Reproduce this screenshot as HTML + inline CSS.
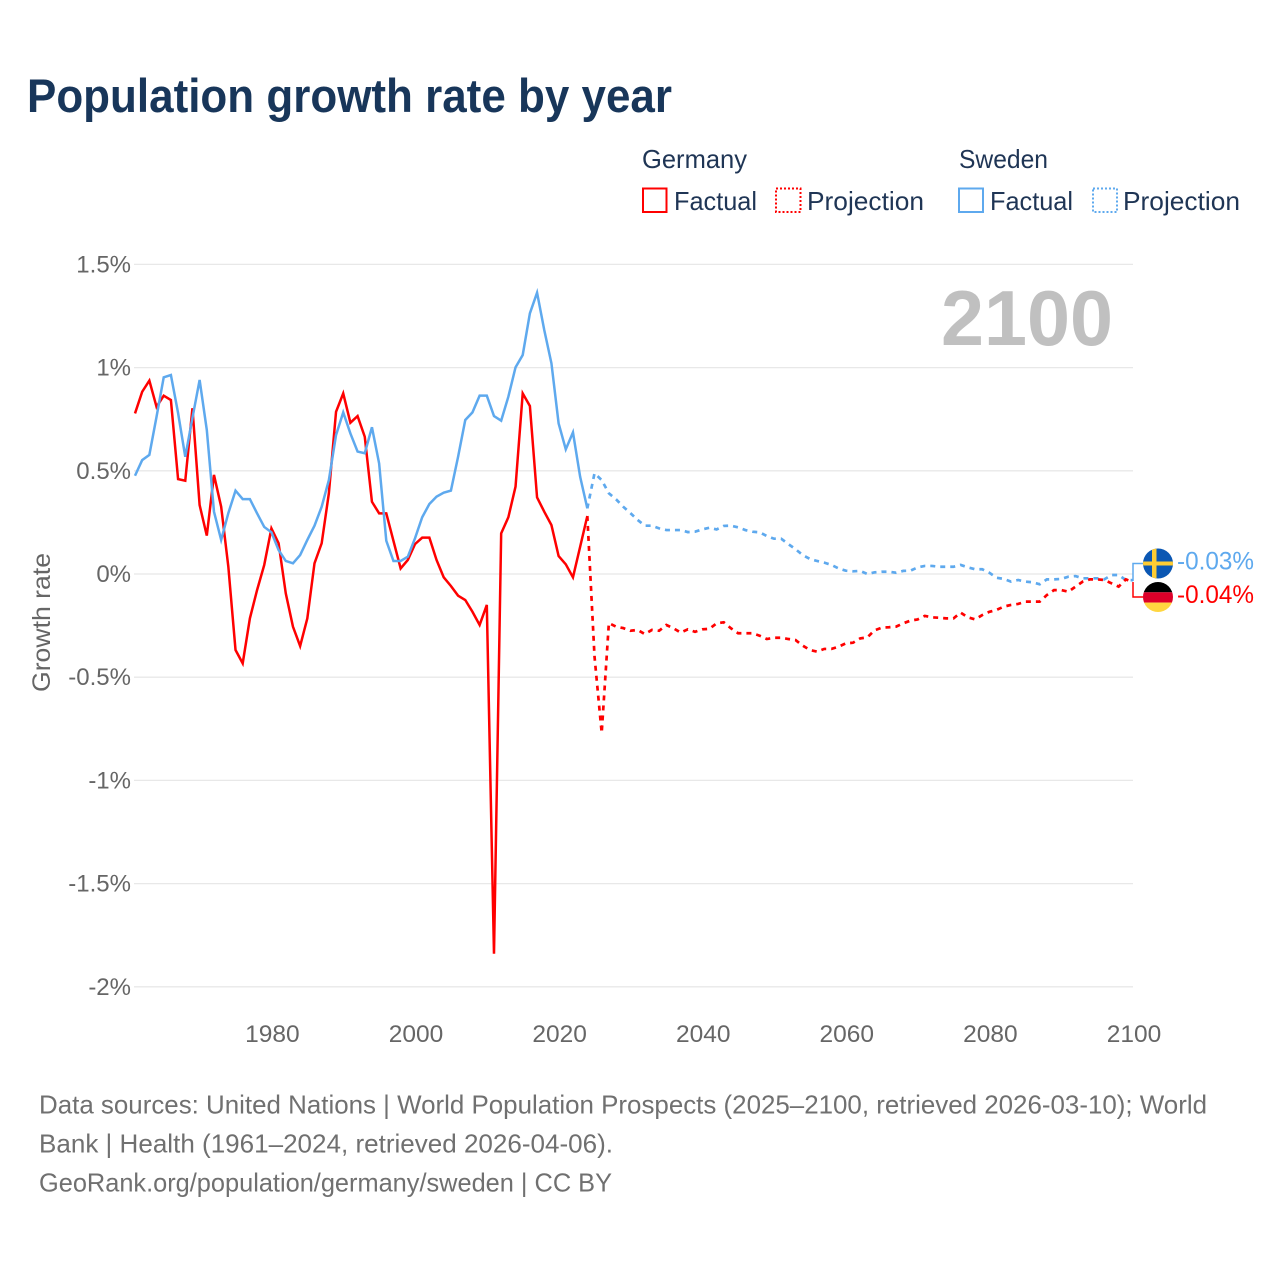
<!DOCTYPE html>
<html lang="en">
<head>
<meta charset="utf-8">
<title>Population growth rate by year</title>
<style>
html,body{margin:0;padding:0;background:#fff;}
svg{display:block;font-family:"Liberation Sans",sans-serif;}
</style>
</head>
<body>
<svg id="chart" xmlns="http://www.w3.org/2000/svg" width="1280" height="1280" viewBox="0 0 1280 1280">
  <text x="27" y="112" font-size="47" font-weight="700" fill="#18365a" textLength="645" lengthAdjust="spacingAndGlyphs">Population growth rate by year</text>

  <g font-size="26" fill="#1f3555">
    <text x="642" y="168" textLength="105" lengthAdjust="spacingAndGlyphs">Germany</text>
    <rect x="643" y="188.500" width="23.500" height="23.500" fill="none" stroke="#ff0000" stroke-width="2"/>
    <text x="674" y="210" textLength="83" lengthAdjust="spacingAndGlyphs">Factual</text>
    <rect x="776" y="188.500" width="24.500" height="23.500" fill="none" stroke="#ff0000" stroke-width="2" stroke-dasharray="2 2"/>
    <text x="807" y="210" textLength="117" lengthAdjust="spacingAndGlyphs">Projection</text>
    <text x="959" y="168" textLength="89" lengthAdjust="spacingAndGlyphs">Sweden</text>
    <rect x="959" y="188.500" width="24" height="23.500" fill="none" stroke="#5ea9ee" stroke-width="2"/>
    <text x="990" y="210" textLength="83" lengthAdjust="spacingAndGlyphs">Factual</text>
    <rect x="1093" y="188.500" width="24" height="23.500" fill="none" stroke="#5ea9ee" stroke-width="2" stroke-dasharray="2 2"/>
    <text x="1123" y="210" textLength="117" lengthAdjust="spacingAndGlyphs">Projection</text>
  </g>

  <g id="grid"></g>
  <g id="yticks" font-size="24" fill="#666666" text-anchor="end"></g>
  <g id="xticks" font-size="24.500" fill="#666666" text-anchor="middle"></g>

  <text transform="translate(50 622.500) rotate(-90)" text-anchor="middle" font-size="25" fill="#666666" textLength="139" lengthAdjust="spacingAndGlyphs">Growth rate</text>

  <text id="year-label" x="941" y="345" font-size="78" font-weight="700" fill="#c0c0c0" textLength="172" lengthAdjust="spacingAndGlyphs">2100</text>

  <g id="series"></g>

  <g>
    <defs>
      <clipPath id="clip-se"><circle cx="1158" cy="563.500" r="15"/></clipPath>
      <clipPath id="clip-de"><circle cx="1158" cy="597" r="15"/></clipPath>
    </defs>
    <path d="M1133 581V563.500H1143" fill="none" stroke="#5ea9ee" stroke-width="1.500"/>
    <path d="M1133 582V597H1143" fill="none" stroke="#ff0000" stroke-width="1.500"/>
    <g clip-path="url(#clip-se)">
      <rect x="1143" y="548.500" width="30" height="30" fill="#0b57b3"/>
      <rect x="1152" y="548.500" width="4.500" height="30" fill="#fecc33"/>
      <rect x="1143" y="561.500" width="30" height="4" fill="#fecc33"/>
    </g>
    <g clip-path="url(#clip-de)">
      <rect x="1143" y="582" width="30" height="10.300" fill="#000000"/>
      <rect x="1143" y="592.300" width="30" height="10.300" fill="#dd0029"/>
      <rect x="1143" y="602.600" width="30" height="10" fill="#ffd640"/>
    </g>
    <text id="end-se" x="1177" y="569.500" font-size="25" fill="#5ea9ee" textLength="77" lengthAdjust="spacingAndGlyphs"></text>
    <text id="end-de" x="1177" y="603" font-size="25" fill="#ff0000" textLength="77" lengthAdjust="spacingAndGlyphs"></text>
  </g>

  <g font-size="26" fill="#707070">
    <text x="39" y="1113.500" textLength="1168" lengthAdjust="spacingAndGlyphs">Data sources: United Nations | World Population Prospects (2025–2100, retrieved 2026-03-10); World</text>
    <text x="39" y="1152.500" textLength="574" lengthAdjust="spacingAndGlyphs">Bank | Health (1961–2024, retrieved 2026-04-06).</text>
    <text x="39" y="1191.500" textLength="573" lengthAdjust="spacingAndGlyphs">GeoRank.org/population/germany/sweden | CC BY</text>
  </g>
</svg>
<script>
const firstFactualYear = 1961;
const firstProjectionYear = 2024;
const yTickValues = [1.5, 1, 0.5, 0, -0.5, -1, -1.5, -2];
const yTickLabels = ["1.5%", "1%", "0.5%", "0%", "-0.5%", "-1%", "-1.5%", "-2%"];
const xTickValues = [1980, 2000, 2020, 2040, 2060, 2080, 2100];
const germanyFactual = [0.778,0.883,0.937,0.81,0.864,0.843,0.46,0.452,0.803,0.334,0.186,0.48,0.326,0.035,-0.368,-0.433,-0.215,-0.078,0.044,0.221,0.149,-0.094,-0.255,-0.349,-0.215,0.052,0.149,0.391,0.786,0.875,0.733,0.765,0.665,0.35,0.294,0.294,0.16,0.027,0.068,0.145,0.176,0.176,0.068,-0.016,-0.058,-0.105,-0.126,-0.183,-0.247,-0.15,-1.84,0.197,0.275,0.423,0.875,0.814,0.371,0.302,0.237,0.087,0.047,-0.016,0.132,0.281];
const swedenFactual = [0.476,0.552,0.577,0.762,0.953,0.964,0.78,0.568,0.756,0.94,0.698,0.302,0.165,0.295,0.404,0.363,0.363,0.294,0.228,0.202,0.116,0.063,0.052,0.092,0.165,0.234,0.326,0.455,0.673,0.783,0.681,0.593,0.585,0.711,0.536,0.161,0.063,0.063,0.084,0.173,0.275,0.339,0.375,0.394,0.404,0.568,0.746,0.783,0.864,0.864,0.765,0.743,0.859,1.001,1.061,1.263,1.363,1.182,1.021,0.73,0.604,0.686,0.471,0.318];
const germanyProjection = [0.281,-0.4,-0.77,-0.238,-0.255,-0.262,-0.275,-0.271,-0.291,-0.271,-0.275,-0.247,-0.263,-0.284,-0.268,-0.28,-0.268,-0.266,-0.239,-0.234,-0.263,-0.287,-0.287,-0.287,-0.299,-0.315,-0.309,-0.309,-0.315,-0.32,-0.347,-0.368,-0.376,-0.363,-0.363,-0.352,-0.336,-0.333,-0.312,-0.307,-0.273,-0.26,-0.258,-0.255,-0.239,-0.226,-0.22,-0.203,-0.21,-0.212,-0.215,-0.215,-0.187,-0.21,-0.22,-0.199,-0.183,-0.174,-0.158,-0.15,-0.145,-0.134,-0.134,-0.134,-0.102,-0.078,-0.078,-0.086,-0.061,-0.037,-0.026,-0.026,-0.029,-0.045,-0.061,-0.026,-0.04];
const swedenProjection = [0.318,0.488,0.455,0.391,0.362,0.326,0.295,0.262,0.234,0.234,0.221,0.213,0.213,0.213,0.203,0.205,0.216,0.224,0.216,0.233,0.234,0.226,0.213,0.205,0.202,0.184,0.171,0.171,0.145,0.12,0.092,0.073,0.063,0.055,0.044,0.027,0.016,0.013,0.015,0,0.008,0.011,0.011,0.006,0.015,0.016,0.032,0.039,0.039,0.035,0.035,0.035,0.044,0.032,0.023,0.023,0.006,-0.018,-0.024,-0.037,-0.029,-0.037,-0.04,-0.05,-0.026,-0.026,-0.024,-0.013,-0.01,-0.021,-0.021,-0.021,-0.026,-0.005,-0.005,-0.029,-0.03];
const endValueSweden = "-0.03%";
const endValueGermany = "-0.04%";

const SVG_NS = "http://www.w3.org/2000/svg";
function xScale(year) { return 135 + (year - 1961) * (1133 - 135) / (2100 - 1961); }
function yScale(value) { return 574 - value * 206.4; }
function linePath(values, startYear) {
  return values.map(function (v, i) {
    return (i === 0 ? "M" : "L") + xScale(startYear + i).toFixed(2) + " " + yScale(v).toFixed(2);
  }).join("");
}

const gridGroup = document.getElementById("grid");
const yTickGroup = document.getElementById("yticks");
yTickValues.forEach(function (v, i) {
  const line = document.createElementNS(SVG_NS, "line");
  
  
  line.setAttribute("x1", 134);
  line.setAttribute("x2", 1133);
  line.setAttribute("y1", yScale(v));
  line.setAttribute("y2", yScale(v));
  line.setAttribute("stroke", "#e8e8e8");
  line.setAttribute("stroke-width", "1.300");
  gridGroup.appendChild(line);
  const label = document.createElementNS(SVG_NS, "text");
  
  
  label.setAttribute("x", 131);
  label.setAttribute("y", yScale(v) + 8);
  label.textContent = yTickLabels[i];
  yTickGroup.appendChild(label);
});

const xTickGroup = document.getElementById("xticks");
xTickValues.forEach(function (year) {
  const label = document.createElementNS(SVG_NS, "text");
  
  
  label.setAttribute("x", xScale(year) + 1);
  label.setAttribute("y", 1042);
  label.textContent = String(year);
  xTickGroup.appendChild(label);
});

const seriesGroup = document.getElementById("series");
function addSeries(name, values, startYear, color, dash) {
  const path = document.createElementNS(SVG_NS, "path");
  path.setAttribute("d", linePath(values, startYear));
  path.setAttribute("fill", "none");
  path.setAttribute("stroke", color);
  path.setAttribute("stroke-width", dash ? "2.700" : "2.500");
  path.setAttribute("stroke-linejoin", "miter");
  if (dash) { path.setAttribute("stroke-dasharray", dash); }
  
  
  seriesGroup.appendChild(path);
}
addSeries("line-sweden-projection", swedenProjection, firstProjectionYear, "#5ea9ee", "5 5");
addSeries("line-germany-projection", germanyProjection, firstProjectionYear, "#ff0000", "5 5");
addSeries("line-germany-factual", germanyFactual, firstFactualYear, "#ff0000", null);
addSeries("line-sweden-factual", swedenFactual, firstFactualYear, "#5ea9ee", null);

document.getElementById("end-se").textContent = endValueSweden;
document.getElementById("end-de").textContent = endValueGermany;
</script>
</body>
</html>
